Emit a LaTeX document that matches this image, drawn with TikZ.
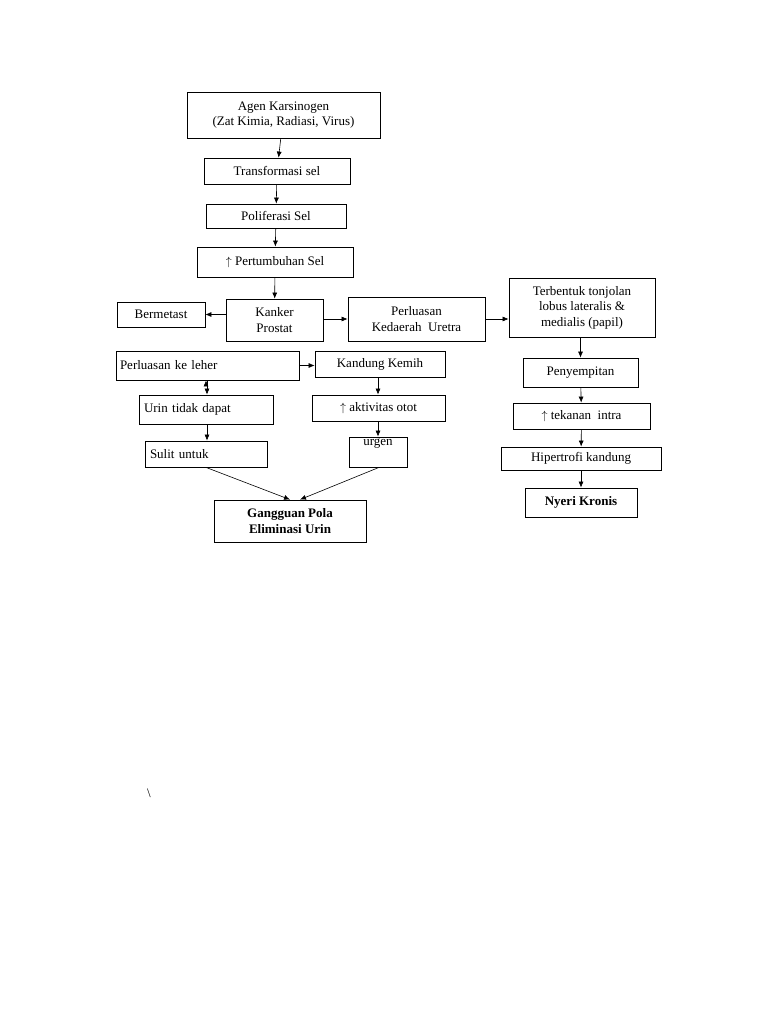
\documentclass[tikz,border=0pt]{standalone}
\usepackage{fontspec}
\setmainfont{Liberation Serif}
\usetikzlibrary{arrows.meta}
\begin{document}
\begin{tikzpicture}[x=1pt,y=-1pt,
 ar/.style={-{Latex[length=6pt,width=5pt]},line width=0.6pt},
 box/.style={draw,line width=0.8pt,inner sep=0pt,font=\fontsize{13}{15.5}\selectfont,align=center}]
\useasboundingbox (0,0) rectangle (768,1024);
\fill[white] (0,0) rectangle (768,1024);
\newcommand\bx[7][]{\node[box,#1,minimum width={#4-#2},minimum height={#5-#3}] (#6) at ({(#2+#4)/2},{(#3+#5)/2}) {#7};}
\bx{187}{92}{380}{138}{a}{Agen Karsinogen\\(Zat Kimia, Radiasi, Virus)}
\bx{204}{158}{350}{184}{t}{Transformasi sel}
\bx{206}{204}{346}{228}{p}{Poliferasi Sel}
\bx{197}{247}{353}{277}{g}{$\uparrow$ Pertumbuhan Sel}
\bx{117}{302}{205}{327}{bm}{Bermetast}
\bx{226}{299}{323}{341}{k}{Kanker\\Prostat}
\bx{348}{297}{485}{341}{u}{Perluasan\\Kedaerah\ \ Uretra}
\bx{509}{278}{655}{337}{tb}{Terbentuk tonjolan\\lobus lateralis \&\\medialis (papil)}
\bx[text width=175pt,align=left]{116}{351}{299}{380}{l}{Perluasan ke leher}
\bx{315}{351}{445}{377}{kk}{Kandung Kemih}
\bx[text width=124pt,align=left]{139}{395}{273}{424}{ur}{Urin tidak dapat}
\bx{312}{395}{445}{421}{ao}{$\uparrow$ aktivitas otot}
\bx[text width=112pt,align=left]{145}{441}{267}{467}{su}{Sulit untuk}
\bx{349}{437}{407}{467}{ug}{urgen\\[4pt]}
\bx[font=\fontsize{13}{15.5}\selectfont\bfseries]{214}{500}{366}{542}{gp}{Gangguan Pola\\Eliminasi Urin}
\bx{523}{358}{638}{387}{pe}{Penyempitan}
\bx{513}{403}{650}{429}{te}{$\uparrow$ tekanan\ \ intra}
\bx{501}{447}{661}{470}{hk}{Hipertrofi kandung}
\bx[font=\fontsize{13}{15.5}\selectfont\bfseries]{525}{488}{637}{517}{ny}{Nyeri Kronis}
\node[font=\fontsize{13}{15.5}\selectfont] (bs) at (149,793) {\textbackslash};
\draw[ar] (a) -- (t); \draw[ar] (t) -- (p); \draw[ar] (p) -- (g);
\draw[ar] (g) -- (k);
\draw[ar] (k.west |- bm) -- (bm.east);
\draw[ar] (k.east |- u) -- (u.west);
\draw[ar] (u.east) -- (tb.west |- u.east);
\draw[ar] (tb.south -| pe) -- (pe);
\draw[ar] (pe) -- (te); \draw[ar] (te) -- (hk); \draw[ar] (hk) -- (ny);
\draw[ar] (l.east) -- (kk.west |- l.east);
\draw[ar] (l.south -| ur.south) ++(-0,0) coordinate (dummy);
\draw[ar] (l.south -| 207,0) -- (ur.north -| 207,0);
\draw[ar] (ur.south -| 207,0) -- (su.north -| 207,0);
\draw[ar] (kk.south -| 378,0) -- (ao.north -| 378,0);
\draw[ar] (ao.south -| 378,0) -- (ug.north -| 378,0);
\draw[ar] (su.south -| 206,0) -- (gp.north -| 290,0);
\draw[ar] (ug.south -| 379,0) -- (gp.north -| 300,0);
\end{tikzpicture}
\end{document}
